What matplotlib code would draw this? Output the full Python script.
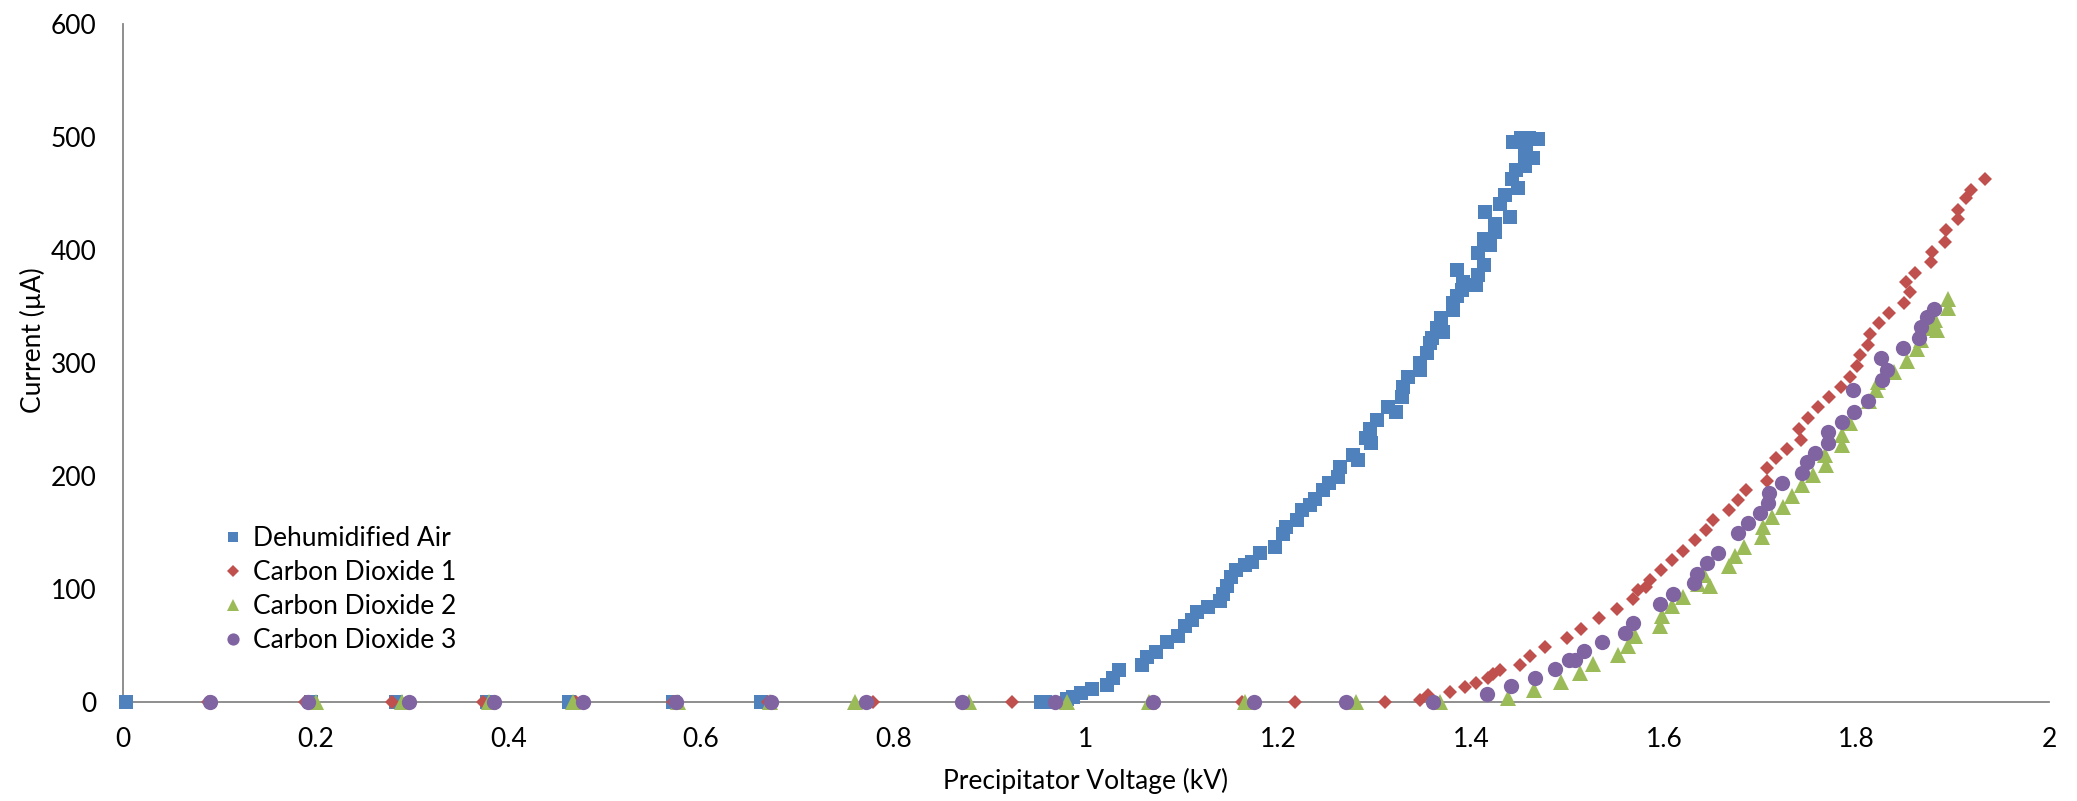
import matplotlib
matplotlib.use("Agg")
import matplotlib.pyplot as plt
from matplotlib.ticker import FuncFormatter, MultipleLocator

plt.rcParams["font.family"] = ["Lato", "DejaVu Sans"]

# Dehumidified Air (kV, uA)
air_kv = [0.003, 0.195, 0.283, 0.378, 0.463, 0.571, 0.663, 0.953,
          0.957, 0.980, 0.987, 0.995, 1.006, 1.022, 1.028, 1.034, 1.058, 1.063,
          1.073, 1.084, 1.096, 1.103, 1.110, 1.115, 1.127, 1.139, 1.142, 1.146,
          1.151, 1.156, 1.165, 1.172, 1.181, 1.196, 1.205, 1.208, 1.219, 1.224,
          1.233, 1.238, 1.246, 1.252, 1.262, 1.264, 1.277, 1.282, 1.291, 1.296,
          1.295, 1.302, 1.314, 1.322, 1.328, 1.329, 1.334, 1.347, 1.347, 1.354,
          1.357, 1.359, 1.364, 1.371, 1.369, 1.381, 1.381, 1.385, 1.390, 1.385,
          1.392, 1.405, 1.407, 1.413, 1.407, 1.413, 1.420, 1.425, 1.425, 1.414,
          1.440, 1.430, 1.435, 1.442, 1.449, 1.447, 1.456, 1.464, 1.456, 1.443,
          1.457, 1.452, 1.460, 1.469]
air_ua = [0, 0, 0, 0, 0, 0, 0, 0,
          0, 3, 4.5, 8, 11.5, 15, 21, 28, 33, 40,
          44.5, 53, 58, 67, 73, 80, 84, 89, 96, 103,
          111, 117, 121, 124, 132, 137, 149, 155, 161, 170,
          174, 180, 188, 194, 199, 208, 219, 214, 234, 229,
          242, 250, 261, 257, 270, 279, 288, 294, 300, 309,
          318, 322, 331, 327, 340, 347, 353, 359, 365, 382,
          372, 369, 378, 387, 397, 410, 404, 416, 423, 434,
          429, 441, 449, 463, 455, 471, 474, 481, 487, 496,
          491, 499, 499, 498]

# Carbon Dioxide 1
co2a_kv = [0.088, 0.189, 0.279, 0.374, 0.470, 0.571, 0.670, 0.779, 0.923,
           1.070, 1.162, 1.217, 1.311,
           1.347, 1.355, 1.378, 1.394, 1.405, 1.417, 1.423, 1.430, 1.451, 1.461,
           1.477, 1.499, 1.514, 1.533, 1.551, 1.568, 1.573, 1.582, 1.586, 1.597,
           1.609, 1.620, 1.632, 1.644, 1.651, 1.668, 1.677, 1.685, 1.707, 1.707,
           1.716, 1.728, 1.742, 1.740, 1.750, 1.760, 1.772, 1.784, 1.793, 1.801,
           1.804, 1.812, 1.814, 1.823, 1.834, 1.849, 1.856, 1.852, 1.861, 1.877,
           1.878, 1.892, 1.893, 1.905, 1.905, 1.914, 1.919, 1.934]
co2a_ua = [0, 0, 0, 0, 0, 0, 0, 0, 0,
           0, 0, 0, 0,
           2, 6, 9, 13, 17, 21, 25, 28, 33, 41,
           49, 57, 65, 74, 82, 91, 99, 102, 108, 117,
           126, 134, 143, 152, 161, 170, 179, 188, 196, 207,
           216, 224, 232, 242, 251, 261, 270, 279, 288, 297,
           307, 316, 326, 335, 344, 353, 363, 372, 380, 389,
           398, 407, 418, 427, 435, 446, 453, 463]

# Carbon Dioxide 2
co2b_kv = [0.200, 0.290, 0.380, 0.467, 0.576, 0.672, 0.760, 0.878, 0.980,
           1.065, 1.165, 1.280, 1.368,
           1.438, 1.465, 1.493, 1.513, 1.526, 1.552, 1.563, 1.570, 1.596, 1.598,
           1.609, 1.620, 1.636, 1.648, 1.642, 1.668, 1.674, 1.683, 1.702, 1.703,
           1.712, 1.724, 1.733, 1.744, 1.755, 1.768, 1.767, 1.785, 1.785, 1.793,
           1.813, 1.820, 1.822, 1.839, 1.853, 1.863, 1.867, 1.879, 1.882, 1.884,
           1.895, 1.895]
co2b_ua = [0, 0, 0, 0, 0, 0, 0, 0, 0,
           0, 0, 0, 0,
           3.5, 11, 18, 26, 34, 42, 50, 58, 67, 76,
           85, 93, 104, 103, 112, 120, 129, 137, 146, 155,
           164, 173, 182, 192, 201, 210, 219, 227, 236, 247,
           266, 276, 283, 292, 302, 312, 320, 331, 338, 329,
           349, 357]

# Carbon Dioxide 3
co2c_kv = [0.090, 0.192, 0.297, 0.385, 0.478, 0.574, 0.673, 0.772, 0.871,
           0.968, 1.070, 1.174, 1.270, 1.360,
           1.416, 1.441, 1.466, 1.487, 1.502, 1.508, 1.517, 1.536, 1.560, 1.568,
           1.596, 1.610, 1.631, 1.634, 1.645, 1.656, 1.677, 1.687, 1.700, 1.708,
           1.709, 1.723, 1.744, 1.749, 1.757, 1.770, 1.770, 1.785, 1.797, 1.812,
           1.796, 1.827, 1.832, 1.826, 1.848, 1.865, 1.867, 1.873, 1.881]
co2c_ua = [0, 0, 0, 0, 0, 0, 0, 0, 0,
           0, 0, 0, 0, 0,
           7, 14, 21, 29, 37, 37, 45, 53, 61, 70,
           87, 96, 105, 113, 123, 132, 150, 158, 167, 176,
           185, 194, 203, 212, 220, 229, 239, 248, 257, 266,
           276, 285, 294, 304, 313, 322, 332, 341, 348]

series = [
    ("Dehumidified Air", air_kv, air_ua, "#4F81BD", "s", 9.5),
    ("Carbon Dioxide 1", co2a_kv, co2a_ua, "#C0504D", "D", 7.5),
    ("Carbon Dioxide 2", co2b_kv, co2b_ua, "#9BBB59", "^", 11.0),
    ("Carbon Dioxide 3", co2c_kv, co2c_ua, "#8064A2", "o", 11.0),
]

fig = plt.figure(figsize=(20.77, 8.01), dpi=100)
ax = fig.add_axes([123 / 2077, 1 - 702 / 801, (2049 - 123) / 2077, (702 - 24) / 801])

for label, xs, ys, color, marker, size in series:
    ax.plot(xs, ys, linestyle="none", marker=marker, markersize=size,
            color=color, markeredgewidth=0, label=label, clip_on=False, zorder=3)

ax.set_xlim(0, 2)
ax.set_ylim(0, 600)
ax.xaxis.set_major_locator(MultipleLocator(0.2))
ax.yaxis.set_major_locator(MultipleLocator(100))
ax.xaxis.set_major_formatter(FuncFormatter(lambda v, p: f"{round(v, 1):g}"))

for side in ("top", "right"):
    ax.spines[side].set_visible(False)
for side in ("left", "bottom"):
    ax.spines[side].set_color("#868686")
    ax.spines[side].set_linewidth(1.3)

ax.tick_params(length=0, labelsize=19)
ax.tick_params(axis="y", pad=19)
ax.tick_params(axis="x", pad=18)

fig.text(1086 / 2077, 1 - 781 / 801, "Precipitator Voltage (kV)",
         ha="center", va="center", fontsize=19)
fig.text(33 / 2077, 1 - 340 / 801, "Current (µA)", rotation=90,
         ha="center", va="center", fontsize=19)

fig.legend(loc="upper left", bbox_to_anchor=(220 / 2077, 1 - 526 / 801),
           frameon=False, fontsize=19, handlelength=1.0, handletextpad=0.25,
           borderpad=0, borderaxespad=0, labelspacing=0.34, markerscale=0.8)

fig.savefig("out.png", dpi=100)
